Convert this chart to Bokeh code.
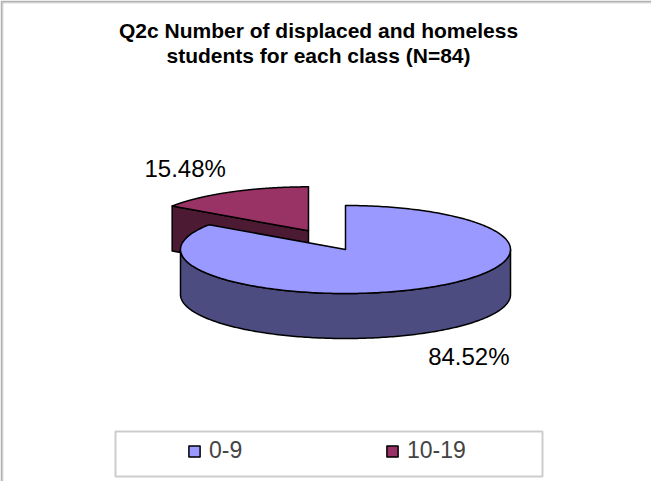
import numpy as np
from bokeh.plotting import figure
from bokeh.models import Range1d, Label, Legend, LegendItem, BoxAnnotation, ColumnDataSource
from bokeh.core.properties import value
from bokeh.embed import file_html
from bokeh.resources import INLINE

# ---------------- data ----------------
categories = ["0-9", "10-19"]
counts = [71, 13]                       # N = 84
pct_labels = ["84.52%", "15.48%"]
title_lines = ["Q2c Number of displaced and homeless",
               "students for each class (N=84)"]

# ---------------- style / layout ----------------
top_colors = ["#9999FF", "#993366"]
side_colors = ["#4C4C80", "#4C1A33"]
explode = [0.0, 0.48]
CX, CY = 353.0, 257.0      # page pixel coords of pie centre (y grows downwards)
RX, RY = 165.0, 44.0
DEPTH = 45.0
LABEL_F = 1.6
FONT = "Liberation Sans"

W, H = 651, 481
p = figure(width=W, height=H, output_backend="svg", toolbar_location=None,
           x_range=Range1d(8, 8 + W), y_range=Range1d(8 + H, 8),
           x_axis_location=None, y_axis_location=None, min_border=0)
p.grid.visible = False
p.outline_line_color = None
p.background_fill_color = "white"
p.border_fill_color = "white"

# frame of the chart area (right/bottom edges lie outside the window)
p.add_layout(BoxAnnotation(left=9, right=3000, top=9, bottom=3000,
                           fill_alpha=0, line_color="black", line_width=2))
p.add_layout(BoxAnnotation(left=10.5, right=3000, top=10.5, bottom=3000,
                           fill_alpha=0, line_color="#9a9a9a", line_width=1))

# ---------------- pie geometry ----------------
vals = np.array(counts, dtype=float)
fracs = vals / vals.sum()

def pt(a_deg, ox, oy, dz=0.0):
    a = np.radians(a_deg)
    return CX + ox + RX * np.cos(a), CY + oy - RY * np.sin(a) + dz

slices = []
cum = 0.0
for i, f in enumerate(fracs):
    start = 90.0 - 360.0 * cum
    end = start - 360.0 * f
    mid = 0.5 * (start + end)
    ox = explode[i] * RX * np.cos(np.radians(mid))
    oy = -explode[i] * RY * np.sin(np.radians(mid))
    slices.append(dict(start=start, end=end, mid=mid, ox=ox, oy=oy))
    cum += f

xs, ys, fills, kinds = [], [], [], []
top_index = {}

# draw order: back (exploded) slice first, then the big one
for i in [1, 0]:
    s = slices[i]
    ox, oy = s["ox"], s["oy"]
    # radial cut faces facing the viewer
    for a, sign in [(s["start"], 1), (s["end"], -1)]:
        ny = sign * np.cos(np.radians(a))
        if ny < -1e-9:
            rx_, ry_ = pt(a, ox, oy)
            xs.append([CX + ox, rx_, rx_, CX + ox])
            ys.append([CY + oy, ry_, ry_ + DEPTH, CY + oy + DEPTH])
            fills.append(side_colors[i]); kinds.append("face")
    # outer wall (front half only)
    for k in range(-2, 3):
        lo = max(s["end"], -180.0 + 360.0 * k)
        hi = min(s["start"], 360.0 * k)
        if lo < hi:
            aa = np.linspace(lo, hi, 200)
            tx, ty = pt(aa, ox, oy)
            xs.append(list(tx) + list(tx[::-1]))
            ys.append(list(ty) + list((ty + DEPTH)[::-1]))
            fills.append(side_colors[i]); kinds.append("wall")
    # top face
    aa = np.linspace(s["start"], s["end"], 300)
    tx, ty = pt(aa, ox, oy)
    xs.append([CX + ox] + list(tx) + [CX + ox])
    ys.append([CY + oy] + list(ty) + [CY + oy])
    fills.append(top_colors[i]); kinds.append("top")
    top_index[i] = len(xs) - 1

src = ColumnDataSource(dict(xs=xs, ys=ys, fill=fills))
r = p.patches("xs", "ys", source=src, fill_color="fill", line_color="black",
              line_width=1.5, line_join="round")

# percentage labels
lx, ly = [], []
for i, s in enumerate(slices):
    m = np.radians(s["mid"])
    x = CX + s["ox"] + LABEL_F * RX * np.cos(m)
    y = CY + s["oy"] - LABEL_F * RY * np.sin(m) + (DEPTH if np.sin(m) < 0 else 0)
    lx.append(x); ly.append(y)
p.text(x=lx, y=ly, text=pct_labels, text_font=value(FONT), text_font_size="24px",
       text_align="center", text_baseline="middle", text_color="black")

# title
for j, line in enumerate(title_lines):
    p.add_layout(Label(x=326, y=38 + 24.5 * j, text=line, text_font=FONT,
                       text_font_size="21px", text_font_style="bold",
                       text_align="center", text_baseline="alphabetic",
                       text_color="black"))

# legend box + legend
p.add_layout(BoxAnnotation(left=123, right=550, top=439, bottom=484,
                           fill_color="white", fill_alpha=1,
                           line_color="#555555", line_width=2))
legend = Legend(items=[LegendItem(label=categories[i], renderers=[r], index=top_index[i])
                       for i in range(len(categories))],
                orientation="horizontal", location=(187, 17),
                border_line_color=None, background_fill_alpha=0,
                glyph_width=14, glyph_height=14, label_standoff=8,
                label_text_font=FONT, label_text_font_size="23px",
                padding=0, margin=0, spacing=0, label_width=176)
p.add_layout(legend)

open("out.html", "w").write(file_html(p, INLINE))
